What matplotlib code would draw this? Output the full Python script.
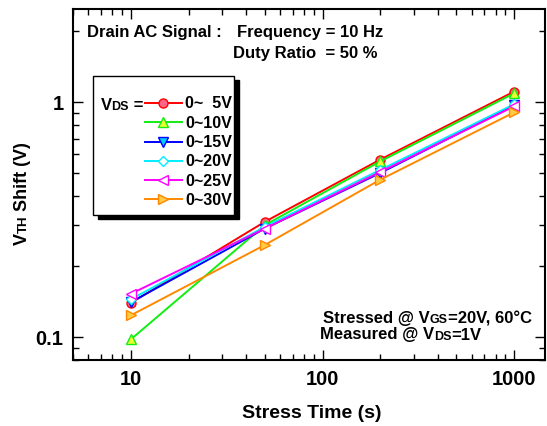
import matplotlib
matplotlib.use("Agg")
import matplotlib.pyplot as plt
import matplotlib.transforms as mtransforms
from matplotlib.patches import Rectangle
from matplotlib.ticker import LogLocator, NullFormatter

plt.rcParams['font.family'] = ['Liberation Sans', 'DejaVu Sans']
plt.rcParams['font.weight'] = 'bold'

# ---- data ----
times = [10, 50, 200, 1000]
v_0_5 = [0.140, 0.310, 0.570, 1.11]
v_0_10 = [0.098, 0.300, 0.560, 1.09]
v_0_15 = [0.141, 0.290, 0.500, 0.97]
v_0_20 = [0.145, 0.295, 0.515, 0.98]
v_0_25 = [0.153, 0.290, 0.505, 0.96]
v_0_30 = [0.124, 0.247, 0.468, 0.905]
series_labels = ["0~  5V", "0~10V", "0~15V", "0~20V", "0~25V", "0~30V"]
xtick_vals = [10, 100, 1000]
xtick_labels = ["10", "100", "1000"]
ytick_vals = [0.1, 1]
ytick_labels = ["0.1", "1"]

series = [v_0_5, v_0_10, v_0_15, v_0_20, v_0_25, v_0_30]
colors = ['#ff0000', '#11ee11', '#0000ff', '#00eeff', '#ff00ff', '#ff8800']
faces = ['#ff6688', '#eeff33', '#00ccff', '#ffffff', '#ffffff', '#ffcc44']
markers = ['o', '^', 'v', 'D', '<', '>']
msizes = [6.5, 7, 7, 5.5, 7, 7]

W, H = 547, 426
fig = plt.figure(figsize=(W / 100, H / 100), dpi=100)
L, R, T, B = 73.3, 545.0, 8.7, 360.0
ax = fig.add_axes([L / W, 1 - B / H, (R - L) / W, (B - T) / H])

for ys, c, f, m, ms, lab in zip(series, colors, faces, markers, msizes, series_labels):
    ax.plot(times, ys, color=c, lw=1.4, marker=m, ms=ms, mfc=f, mec=c, mew=1.0, label=lab)

ax.set_xscale('log')
ax.set_yscale('log')
ax.set_xlim(5, 1450)
ax.set_ylim(0.08, 2.5)
ax.set_xticks(xtick_vals, labels=xtick_labels)
ax.set_yticks(ytick_vals, labels=ytick_labels)
ax.xaxis.set_minor_locator(LogLocator(base=10, subs=range(2, 10), numticks=20))
ax.yaxis.set_minor_locator(LogLocator(base=10, subs=range(2, 10), numticks=20))
ax.xaxis.set_minor_formatter(NullFormatter())
ax.yaxis.set_minor_formatter(NullFormatter())
ax.tick_params(which='both', direction='in', top=True, right=True, width=1.0)
ax.tick_params(which='major', length=7, labelsize=14.5, pad=7)
ax.tick_params(which='minor', length=4)
for lbl in ax.get_xticklabels() + ax.get_yticklabels():
    lbl.set_fontweight('bold')
for s in ax.spines.values():
    s.set_linewidth(1.5)

renderer = fig.canvas.get_renderer()


def px2ax(px, py):
    return (px - L) / (R - L), (B - py) / (B - T)


def rich(x, y, parts, transform, rotation=0):
    t = transform
    for s, size in parts:
        txt = fig.text(x, y, s, transform=t, fontsize=size, fontweight='bold',
                       va='baseline', ha='left', rotation=rotation,
                       rotation_mode='anchor')
        ex = txt.get_window_extent(renderer)
        if rotation == 0:
            t = mtransforms.offset_copy(t, fig=fig, x=ex.width * 72 / fig.dpi, units='points')
        else:
            t = mtransforms.offset_copy(t, fig=fig, y=ex.height * 72 / fig.dpi, units='points')


FS = 12
# top annotation
x0, y0 = px2ax(87, 36.6)
ax.text(x0, y0, "Drain AC Signal :", transform=ax.transAxes, fontsize=FS,
        fontweight='bold', va='baseline')
x1, y1 = px2ax(237, 36.6)
ax.text(x1, y1, "Frequency = 10 Hz", transform=ax.transAxes, fontsize=FS,
        fontweight='bold', va='baseline')
x2, y2 = px2ax(233.5, 57.6)
ax.text(x2, y2, "Duty Ratio  = 50 %", transform=ax.transAxes, fontsize=FS,
        fontweight='bold', va='baseline')

# bottom-right annotation
xs, ys_ = px2ax(323, 323)
rich(xs, ys_, [("Stressed @ V", FS), ("GS", 9), ("=20V, 60\u00b0C", FS)], ax.transAxes)
xm, ym = px2ax(320, 339.5)
rich(xm, ym, [("Measured @ V", FS), ("DS", 9), ("=1V", FS)], ax.transAxes)

# legend box with shadow
bx0, by0 = px2ax(92.7, 215)
bx1, by1 = px2ax(234.3, 75.7)
sx, sy = 5 / (R - L), 4 / (B - T)
ax.add_patch(Rectangle((bx0 + sx, by0 - sy), bx1 - bx0, by1 - by0, transform=ax.transAxes,
                       facecolor='black', edgecolor='black', zorder=5))
ax.add_patch(Rectangle((bx0, by0), bx1 - bx0, by1 - by0, transform=ax.transAxes,
                       facecolor='white', edgecolor='black', lw=1.0, zorder=6))

lx, ly = px2ax(145, 96.5)
leg = ax.legend(loc='upper left', bbox_to_anchor=(lx, ly), frameon=False,
                borderpad=0, borderaxespad=0, handlelength=2.3, handletextpad=0.2,
                labelspacing=0.27, prop={'weight': 'bold', 'size': 11.5})
leg.set_zorder(7)

xv, yv = px2ax(100.5, 110)
rich(xv, yv, [("V", 12), ("DS", 9), (" =", 12)], ax.transAxes)
for t in fig.texts:
    t.set_zorder(8)

# axis labels
fig.text(312 / W, 1 - 418 / H, "Stress Time (s)", fontsize=14, fontweight='bold',
         ha='center', va='baseline')
# rotated y label built from pieces (bottom to top)
rich(27 / W, 1 - 245 / H, [("V", 13), ("TH", 9.5), (" Shift (V)", 13)],
     fig.transFigure, rotation=90)

fig.savefig("out.png", dpi=100)
